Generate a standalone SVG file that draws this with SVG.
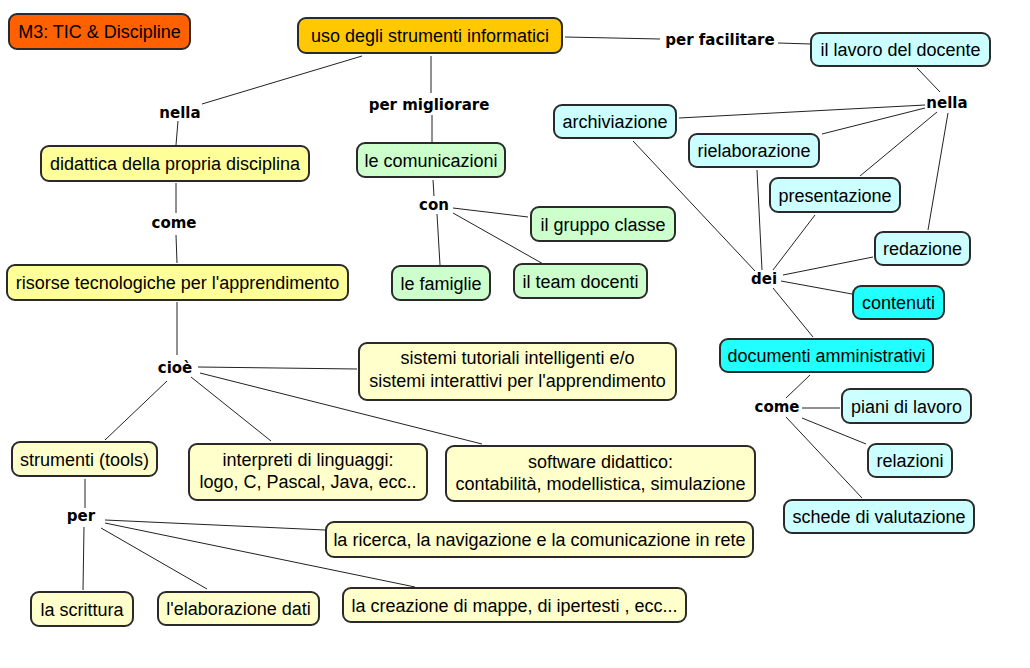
<svg xmlns="http://www.w3.org/2000/svg" width="1030" height="668" viewBox="0 0 1030 668">
<style>
.n{stroke:#2a2a2a;stroke-width:2}
.t{font-family:"Liberation Sans",Arial,sans-serif;font-size:18px;fill:#000;text-anchor:middle}
.l{font-family:"DejaVu Sans",sans-serif;font-weight:bold;font-size:15px;fill:#000;text-anchor:middle}
.c line{stroke:#222;stroke-width:1}
.or{fill:#FF6000}.go{fill:#FFC800}.lc{fill:#CCFFFF}.cy{fill:#22FFFF}.ye{fill:#FFFF99}.py{fill:#FFFFCC}.gr{fill:#CCFFCC}
</style>
<rect width="1030" height="668" fill="#fff"/>
<g class="c">
<line x1="362" y1="56" x2="202" y2="104"/>
<line x1="178" y1="121" x2="176" y2="145"/>
<line x1="431" y1="56" x2="431" y2="93"/>
<line x1="432" y1="115" x2="432" y2="142"/>
<line x1="565" y1="37" x2="660" y2="39"/>
<line x1="778" y1="43" x2="811" y2="44"/>
<line x1="917" y1="68" x2="940" y2="92"/>
<line x1="925" y1="105" x2="679" y2="118"/>
<line x1="925" y1="108" x2="822" y2="134"/>
<line x1="937" y1="112" x2="860" y2="176"/>
<line x1="948" y1="113" x2="928" y2="230"/>
<line x1="633" y1="141" x2="755" y2="271"/>
<line x1="757" y1="170" x2="762" y2="270"/>
<line x1="815" y1="215" x2="773" y2="270"/>
<line x1="783" y1="275" x2="873" y2="257"/>
<line x1="781" y1="281" x2="852" y2="294"/>
<line x1="773" y1="288" x2="813" y2="337"/>
<line x1="810" y1="375" x2="786" y2="398"/>
<line x1="802" y1="408" x2="840" y2="408"/>
<line x1="802" y1="418" x2="866" y2="444"/>
<line x1="786" y1="417" x2="862" y2="498"/>
<line x1="176" y1="183" x2="176" y2="213"/>
<line x1="176" y1="235" x2="177" y2="263"/>
<line x1="177" y1="302" x2="177" y2="355"/>
<line x1="198" y1="367" x2="357" y2="369"/>
<line x1="200" y1="373" x2="482" y2="444"/>
<line x1="191" y1="377" x2="271" y2="441"/>
<line x1="167" y1="381" x2="105" y2="440"/>
<line x1="85" y1="479" x2="85" y2="508"/>
<line x1="84" y1="527" x2="83" y2="590"/>
<line x1="101" y1="528" x2="207" y2="589"/>
<line x1="105" y1="520" x2="325" y2="530"/>
<line x1="105" y1="523" x2="415" y2="587"/>
<line x1="433" y1="180" x2="434" y2="196"/>
<line x1="453" y1="208" x2="528" y2="217"/>
<line x1="453" y1="213" x2="545" y2="265"/>
<line x1="437" y1="214" x2="440" y2="265"/>
</g>
<g id="labels">
<text class="l" x="180" y="118">nella</text>
<text class="l" x="429" y="110">per migliorare</text>
<text class="l" x="720" y="45">per facilitare</text>
<text class="l" x="947" y="108">nella</text>
<text class="l" x="174" y="228">come</text>
<text class="l" x="434" y="210">con</text>
<text class="l" x="764" y="284">dei</text>
<text class="l" x="175" y="373">cioè</text>
<text class="l" x="777" y="412">come</text>
<text class="l" x="81" y="521">per</text>
</g>
<g id="m3"><rect class="n or" x="9" y="14" width="181" height="35" rx="8"/><text class="t" x="99.5" y="37.5">M3: TIC &amp; Discipline</text></g>
<g id="uso"><rect class="n go" x="298" y="18" width="264" height="35" rx="8"/><text class="t" x="430" y="41.5">uso degli strumenti informatici</text></g>
<g id="lavoro"><rect class="n lc" x="811" y="33" width="179" height="33" rx="8"/><text class="t" x="900.5" y="55.5">il lavoro del docente</text></g>
<g id="archiviazione"><rect class="n lc" x="554" y="105" width="122" height="33" rx="8"/><text class="t" x="615" y="127.5">archiviazione</text></g>
<g id="rielaborazione"><rect class="n lc" x="689" y="134" width="130" height="33" rx="8"/><text class="t" x="754" y="156.5">rielaborazione</text></g>
<g id="presentazione"><rect class="n lc" x="770" y="178" width="130" height="34" rx="8"/><text class="t" x="835" y="201.5">presentazione</text></g>
<g id="redazione"><rect class="n lc" x="875" y="232" width="95" height="33" rx="8"/><text class="t" x="922.5" y="254.5">redazione</text></g>
<g id="contenuti"><rect class="n cy" x="853" y="286" width="91" height="33" rx="8"/><text class="t" x="898.5" y="308.5">contenuti</text></g>
<g id="documenti"><rect class="n cy" x="720" y="339" width="213" height="33" rx="8"/><text class="t" x="826.5" y="361.5">documenti amministrativi</text></g>
<g id="piani"><rect class="n lc" x="842" y="389" width="129" height="34" rx="8"/><text class="t" x="906.5" y="412.5">piani di lavoro</text></g>
<g id="relazioni"><rect class="n lc" x="868" y="444" width="84" height="33" rx="8"/><text class="t" x="910" y="466.5">relazioni</text></g>
<g id="schede"><rect class="n lc" x="784" y="500" width="190" height="33" rx="8"/><text class="t" x="879" y="522.5">schede di valutazione</text></g>
<g id="didattica"><rect class="n ye" x="41" y="146" width="268" height="35" rx="8"/><text class="t" x="175" y="169.5">didattica della propria disciplina</text></g>
<g id="risorse"><rect class="n ye" x="7" y="265" width="341" height="35" rx="8"/><text class="t" x="177.5" y="288.5">risorse tecnologiche per l'apprendimento</text></g>
<g id="comunicazioni"><rect class="n gr" x="357" y="143" width="148" height="34" rx="8"/><text class="t" x="431" y="166.5">le comunicazioni</text></g>
<g id="gruppo"><rect class="n gr" x="531" y="207" width="144" height="34" rx="8"/><text class="t" x="603" y="230.5">il gruppo classe</text></g>
<g id="famiglie"><rect class="n gr" x="392" y="266" width="98" height="34" rx="8"/><text class="t" x="441" y="289.5">le famiglie</text></g>
<g id="team"><rect class="n gr" x="514" y="264" width="133" height="34" rx="8"/><text class="t" x="580.5" y="287.5">il team docenti</text></g>
<g id="sistemi"><rect class="n py" x="359" y="343" width="317" height="57" rx="8"/><text class="t" x="517.5" y="364">sistemi tutoriali intelligenti e/o</text><text class="t" x="517.5" y="387"> sistemi interattivi per l'apprendimento</text></g>
<g id="strumenti"><rect class="n py" x="12" y="442" width="145" height="34" rx="8"/><text class="t" x="84.5" y="465.5">strumenti (tools)</text></g>
<g id="interpreti"><rect class="n py" x="189" y="444" width="238" height="56" rx="8"/><text class="t" x="308" y="466">interpreti di linguaggi:</text><text class="t" x="308" y="488"> logo, C, Pascal, Java, ecc..</text></g>
<g id="software"><rect class="n py" x="446" y="446" width="309" height="55" rx="8"/><text class="t" x="600.5" y="468">software didattico:</text><text class="t" x="600.5" y="490">contabilità, modellistica, simulazione</text></g>
<g id="ricerca"><rect class="n py" x="326" y="522" width="427" height="35" rx="8"/><text class="t" x="539.5" y="545.5">la ricerca, la navigazione e la comunicazione in rete</text></g>
<g id="scrittura"><rect class="n py" x="31" y="592" width="102" height="34" rx="8"/><text class="t" x="82" y="615.5">la scrittura</text></g>
<g id="elaborazione"><rect class="n py" x="158" y="592" width="161" height="33" rx="8"/><text class="t" x="238.5" y="614.5">l'elaborazione dati</text></g>
<g id="creazione"><rect class="n py" x="343" y="588" width="343" height="34" rx="8"/><text class="t" x="514.5" y="611.5">la creazione di mappe, di ipertesti , ecc...</text></g>
</svg>
